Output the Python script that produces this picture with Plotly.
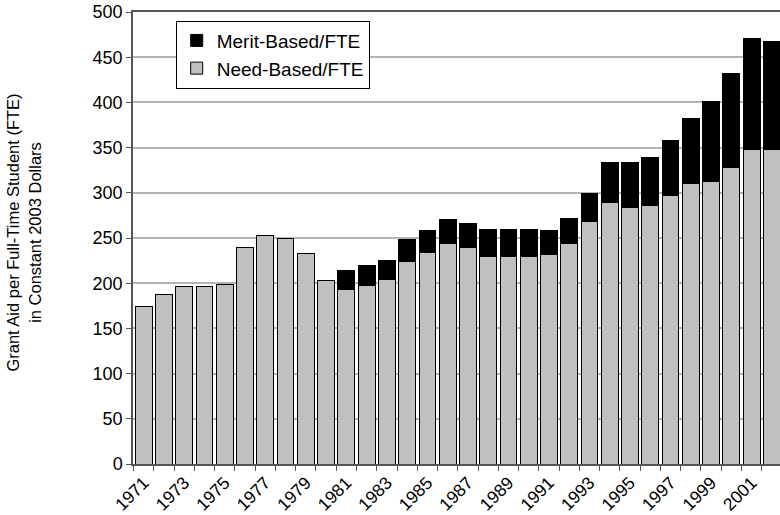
import plotly.graph_objects as go

years = list(range(1971, 2003))
need_based = [174, 188, 196, 196, 199, 239, 253, 250, 233, 203,
              193, 197, 204, 224, 234, 244, 240, 230, 229, 230,
              232, 244, 268, 289, 284, 286, 297, 310, 312, 328,
              348, 348]
merit_based = [0, 0, 0, 0, 0, 0, 0, 0, 0, 0,
               21, 23, 21, 24, 24, 26, 26, 29, 30, 29,
               26, 28, 31, 45, 50, 53, 61, 72, 89, 104,
               123, 119]
y_ticks = [0, 50, 100, 150, 200, 250, 300, 350, 400, 450, 500]
x_ticks = years[::2]
x_labels = [str(y) for y in x_ticks]

font_family = "Liberation Sans, Arial, sans-serif"

fig = go.Figure()
fig.add_trace(go.Bar(
    x=years, y=need_based, name="Need-Based/FTE",
    marker=dict(color="#c0c0c0", line=dict(color="#000000", width=1)),
    width=0.83, legendrank=2,
))
fig.add_trace(go.Bar(
    x=years, y=merit_based, name="Merit-Based/FTE",
    marker=dict(color="#000000", line=dict(color="#000000", width=1)),
    width=0.83, legendrank=1,
))

fig.update_layout(
    width=780, height=515,
    margin=dict(l=133, r=0, t=12, b=51),
    barmode="stack",
    plot_bgcolor="white", paper_bgcolor="white",
    font=dict(family=font_family, size=17, color="#000000"),
    showlegend=True,
    legend=dict(
        x=0.066, y=0.981, xanchor="left", yanchor="top",
        bordercolor="#000000", borderwidth=1, bgcolor="white",
        font=dict(size=19), traceorder="normal",
        itemwidth=30,
    ),
    xaxis=dict(
        range=[1970.47, 2002.4],
        tickmode="array", tickvals=x_ticks, ticktext=x_labels,
        tickangle=-45, ticks="", showgrid=False,
        showline=True, linecolor="#555555", linewidth=1.5, mirror=True,
        minor=dict(tick0=1970.5, dtick=1, ticks="outside", ticklen=5,
                   tickcolor="#555555", tickwidth=1, showgrid=False),
        tickfont=dict(size=17.5),
    ),
    yaxis=dict(
        range=[0, 500],
        tickmode="array", tickvals=y_ticks,
        ticks="outside", ticklen=5, tickcolor="#555555",
        showline=True, linecolor="#555555", linewidth=1.5,
        showgrid=True, gridcolor="#b4b4b4", gridwidth=1.5,
        zeroline=False, tickfont=dict(size=18),
    ),
    annotations=[dict(
        text="Grant Aid per Full-Time Student (FTE)<br>in Constant 2003 Dollars",
        xref="paper", yref="paper", x=(24 - 133) / 647, y=0.512,
        xanchor="center", yanchor="middle", textangle=-90,
        showarrow=False, font=dict(size=16.5, color="#000000"),
    )],
)

fig.write_html("out.html", config={"displayModeBar": False},
               post_script="document.body.style.margin='0';")
